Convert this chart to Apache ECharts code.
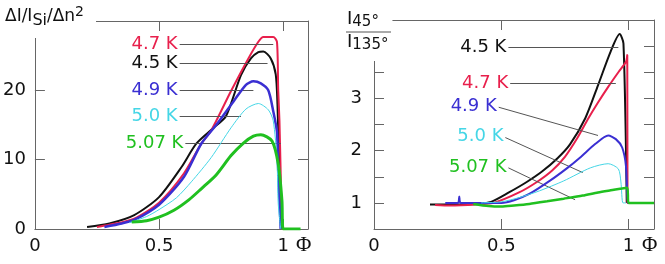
<!DOCTYPE html>
<html>
<head>
<meta charset="utf-8">
<script src="https://cdn.jsdelivr.net/npm/echarts@6/dist/echarts.min.js"></script>
<style>
  html, body { margin: 0; padding: 0; background: #fff; }
  #chart { width: 665px; height: 264px; }
</style>
</head>
<body>
<div id="chart"></div>
<script>
// left panel: dI/I_Si/dn^2 vs phi
var leftPhi45 = [0.21, 0.3, 0.4, 0.5, 0.59, 0.65, 0.72, 0.77, 0.83, 0.87, 0.9, 0.92, 0.95, 0.97, 0.977, 0.985, 0.99, 1.0]
var left45 = [0.3, 0.8, 2.0, 4.6, 8.9, 12.3, 14.6, 16.3, 22.2, 24.6, 25.5, 25.6, 24.6, 22.3, 18, 8, 1, 0]
var leftPhi47 = [0.25, 0.3, 0.4, 0.5, 0.6, 0.67, 0.71, 0.79, 0.86, 0.9, 0.92, 0.96, 0.975, 0.98, 0.985, 0.99, 0.996, 1.02]
var left47 = [0.3, 0.6, 1.5, 3.8, 8, 12.3, 14.2, 19.9, 24.6, 27, 27.7, 27.7, 27, 20, 15.6, 8, 0, 0]
var leftPhi49 = [0.28, 0.35, 0.4, 0.5, 0.6, 0.67, 0.73, 0.8, 0.85, 0.88, 0.91, 0.94, 0.96, 0.975, 0.98, 0.99]
var left49 = [0.3, 0.8, 1.3, 3.5, 7.5, 12.3, 15, 18.4, 20.8, 21.3, 21, 20, 17, 14, 8.4, 0]
var leftPhi50 = [0.38, 0.45, 0.5, 0.57, 0.63, 0.71, 0.79, 0.85, 0.9, 0.94, 0.96, 0.975, 0.98, 0.99]
var left50 = [0.9, 1.8, 2.8, 4.5, 6.8, 10.3, 14.6, 17.3, 18.1, 17.2, 15.6, 10, 3.7, 0]
var leftPhi507 = [0.39, 0.45, 0.5, 0.56, 0.62, 0.67, 0.73, 0.79, 0.84, 0.88, 0.91, 0.955, 0.98, 0.995, 1.0, 1.07]
var left507 = [1.0, 1.2, 1.7, 2.7, 4.2, 5.8, 7.8, 10.6, 12.4, 13.4, 13.6, 12.7, 9.4, 4.1, 0, 0]

// right panel: I45/I135 vs phi
var rightPhi45 = [0.22, 0.3, 0.4, 0.46, 0.53, 0.6, 0.66, 0.72, 0.77, 0.83, 0.88, 0.93, 0.965, 0.98, 0.993]
var right45 = [0.97, 0.97, 0.98, 1.02, 1.2, 1.4, 1.6, 1.85, 2.12, 2.62, 3.25, 3.9, 4.23, 4.05, 1.0]
var rightPhi47 = [0.24, 0.3, 0.4, 0.47, 0.57, 0.64, 0.7, 0.75, 0.8, 0.84, 0.88, 0.92, 0.96, 0.99, 0.995, 0.996, 1.0]
var right47 = [0.96, 0.95, 0.97, 1.0, 1.2, 1.4, 1.62, 1.88, 2.25, 2.6, 2.92, 3.22, 3.5, 3.7, 3.83, 1.0, 1.0]
var rightPhi49 = [0.28, 0.33, 0.335, 0.34, 0.4, 0.5, 0.55, 0.61, 0.69, 0.76, 0.81, 0.87, 0.92, 0.95, 0.975, 0.99, 0.997, 1.0, 1.07]
var right49 = [1.0, 1.0, 1.12, 1.0, 1.0, 1.0, 1.05, 1.17, 1.42, 1.67, 1.87, 2.13, 2.29, 2.22, 2.06, 1.7, 1.0, 1.0, 1.0]
var rightPhi50 = [0.42, 0.5, 0.57, 0.65, 0.745, 0.85, 0.92, 0.96, 0.97, 0.978, 0.99]
var right50 = [1.0, 1.02, 1.1, 1.23, 1.42, 1.67, 1.75, 1.65, 1.4, 1.0, 1.0]
var rightPhi507 = [0.39, 0.45, 0.5, 0.55, 0.61, 0.68, 0.745, 0.82, 0.88, 0.93, 0.995, 1.0, 1.07, 1.1]
var right507 = [0.98, 0.94, 0.93, 0.95, 0.98, 1.03, 1.08, 1.14, 1.2, 1.24, 1.29, 1.0, 1.0, 1.0]

var xTicks = [0, 0.5, 1]
var leftYTicks = [0, 10, 20]
var rightYTicks = [1, 2, 3]

// label text + leader line ends [x1, y1, x2, y2] in data units
var tempNames = ['4.5 K', '4.7 K', '4.9 K', '5.0 K', '5.07 K']
var leftLeaders = [[0.583, 23.9, 0.937, 23.9], [0.583, 26.6, 0.96, 26.6], [0.583, 20, 0.88, 20], [0.583, 16.3, 0.83, 16.3], [0.606, 12.3, 0.99, 12.3]]
var rightLeaders = [[0.528, 3.98, 0.96, 3.98], [0.535, 3.29, 0.95, 3.29], [0.49, 2.83, 0.88, 2.29], [0.516, 2.25, 0.82, 1.58], [0.528, 1.67, 0.79, 1.06]]

var colors = ['#111111', '#e8204c', '#3a2fd2', '#45d6e6', '#20c020']
var leftWidths = [2, 2, 2.5, 1, 3]
var rightWidths = [2, 2, 2, 1, 2.5]

var font = 'DejaVu Sans'
var frame = '#666'

function zip(xs, ys) {
  return xs.map(function (x, i) { return [x, ys[i]] })
}

function tickLabel(list) {
  return function (v) {
    return list.indexOf(Math.round(v * 100) / 100) >= 0 ? String(v) : ''
  }
}

function xAxisFor(grid, top) {
  return {
    type: 'value', gridIndex: grid, position: top ? 'top' : 'bottom',
    min: 0, max: 1.1, interval: 0.5,
    axisLine: { show: true, onZero: false, lineStyle: { color: frame, width: 1 } },
    axisTick: { show: true, inside: true, length: 10, lineStyle: { color: frame } },
    axisLabel: { show: !top, formatter: tickLabel(xTicks), color: '#111', fontSize: 18, fontFamily: font, margin: 8 },
    splitLine: { show: false },
    name: top ? '' : 'Φ',
    nameLocation: 'end', nameGap: -12,
    nameTextStyle: { fontFamily: 'Liberation Serif', fontSize: 21, color: '#111', align: 'left', verticalAlign: 'top', padding: [6, 0, 0, 0] }
  }
}

function yAxisFor(grid, right, min, max, interval, labels, margin) {
  return {
    type: 'value', gridIndex: grid, position: right ? 'right' : 'left',
    min: min, max: max, interval: interval,
    axisLine: { show: true, onZero: false, lineStyle: { color: frame, width: 1 } },
    axisTick: { show: true, inside: true, length: 10, lineStyle: { color: frame } },
    axisLabel: { show: !right, formatter: tickLabel(labels), color: '#111', fontSize: 18, fontFamily: font, margin: margin },
    splitLine: { show: false }
  }
}

function makeSeries(name, xs, ys, idx, panel, leader, width, color) {
  return {
    name: name + (panel ? ' r' : ' l'),
    type: 'line',
    xAxisIndex: panel * 2, yAxisIndex: panel * 2,
    data: zip(xs, ys),
    showSymbol: false,
    smooth: 0.25,
    lineStyle: { color: color, width: width },
    z: 3 + idx,
    markLine: {
      silent: true, symbol: 'none', animation: false,
      lineStyle: { color: '#555', width: 1, type: 'solid' },
      label: { show: true, position: 'start', distance: 2, formatter: name, color: color, fontSize: 18, fontFamily: font },
      data: [[{ coord: [leader[0], leader[1]] }, { coord: [leader[2], leader[3]] }]]
    }
  }
}

var leftX = [leftPhi45, leftPhi47, leftPhi49, leftPhi50, leftPhi507]
var leftY = [left45, left47, left49, left50, left507]
var rightX = [rightPhi45, rightPhi47, rightPhi49, rightPhi50, rightPhi507]
var rightY = [right45, right47, right49, right50, right507]

var series = []
tempNames.forEach(function (n, i) {
  series.push(makeSeries(n, leftX[i], leftY[i], i, 0, leftLeaders[i], leftWidths[i], colors[i]))
})
tempNames.forEach(function (n, i) {
  series.push(makeSeries(n, rightX[i], rightY[i], i, 1, rightLeaders[i], rightWidths[i], colors[i]))
})

var chart = echarts.init(document.getElementById('chart'), null, { renderer: 'canvas' })
chart.setOption({
  animation: false,
  backgroundColor: '#fff',
  title: [
    {
      left: 0, top: 0, z: 1,
      padding: [5, 12, 9, 5],
      backgroundColor: '#fff',
      text: '{m|ΔI/I}{s|Si}{m|/Δn}{p|2}',
      textStyle: {
        fontWeight: 'normal',
        rich: {
          m: { fontSize: 17, fontWeight: 'normal', fontFamily: font, color: '#111', lineHeight: 20 },
          s: { fontSize: 16, fontWeight: 'normal', fontFamily: font, color: '#111', padding: [8, 0, 0, 0] },
          p: { fontSize: 14, fontWeight: 'normal', fontFamily: font, color: '#111', padding: [0, 0, 9, 0] }
        }
      }
    },
    {
      left: 343, top: 2, z: 1,
      padding: [6, 4, 8, 4],
      backgroundColor: '#fff',
      text: '{i|I}{s|45°}\n{i|I}{s|135°}',
      textStyle: {
        fontWeight: 'normal',
        rich: {
          i: { fontSize: 18, fontWeight: 'normal', fontFamily: font, color: '#111', lineHeight: 23 },
          s: { fontSize: 15, fontWeight: 'normal', fontFamily: font, color: '#111', padding: [6, 0, 0, 0] }
        }
      }
    }
  ],
  graphic: [
    { type: 'line', z: 100, shape: { x1: 346, y1: 32, x2: 391, y2: 32 }, style: { stroke: '#555', lineWidth: 1 } }
  ],
  grid: [
    { left: 29, top: 21, width: 279, height: 208 },
    { left: 374, top: 20, width: 280, height: 209 }
  ],
  xAxis: [xAxisFor(0, false), xAxisFor(0, true), xAxisFor(1, false), xAxisFor(1, true)],
  yAxis: [
    yAxisFor(0, false, 0, 30, 10, leftYTicks, 9),
    yAxisFor(0, true, 0, 30, 10, leftYTicks, 9),
    yAxisFor(1, false, 0.5, 4.5, 0.5, rightYTicks, 12),
    yAxisFor(1, true, 0.5, 4.5, 0.5, rightYTicks, 12)
  ],
  series: series
})
</script>
</body>
</html>
